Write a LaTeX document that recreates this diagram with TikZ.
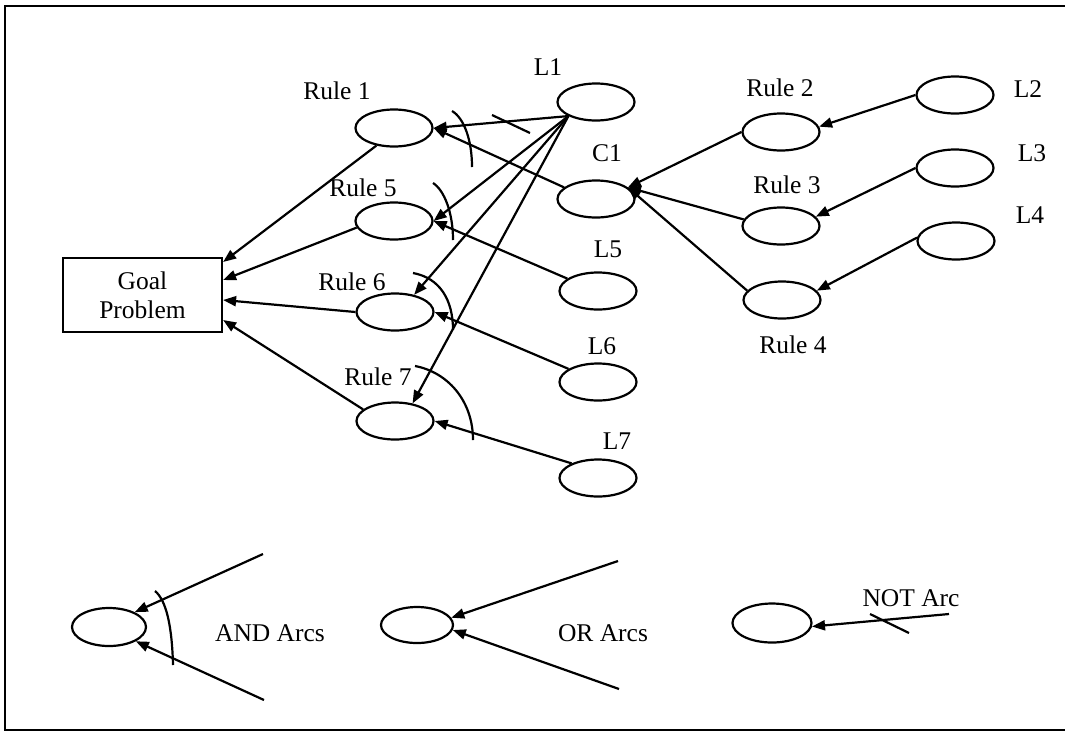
\documentclass[tikz,border=0pt]{standalone}
\usepackage{fontspec}
\setmainfont{Liberation Serif}
\usetikzlibrary{shapes.geometric,arrows.meta}
\begin{document}
\begin{tikzpicture}[x=1pt,y=-1pt,
  line width=2.2pt,
  every node/.style={font=\fontsize{25.5}{29}\selectfont},
  oval/.style={ellipse,draw,inner sep=0pt,minimum width=77pt,minimum height=37pt},
  goalbox/.style={rectangle,draw,inner sep=0pt,minimum width=159pt,minimum height=74pt,align=center},
  lbl/.style={inner sep=0pt},
  link/.style={-{Triangle[length=13pt,width=10pt]}},
  plain/.style={line width=2.2pt}]
\useasboundingbox (0,0) rectangle (1065,732);
% frame
\draw[line width=2.4pt] (1070,6) -- (5,6) -- (5,730) -- (1070,730);

% goal
\node[goalbox] (goal) at (142.5,295) {Goal\\Problem};

% rule nodes
\node[oval] (r1) at (394,128) {};
\node[oval] (r5) at (394,221) {};
\node[oval] (r6) at (395,312) {};
\node[oval] (r7) at (395,421) {};
\node[oval] (r2) at (781,132) {};
\node[oval] (r3) at (781,226) {};
\node[oval] (r4) at (782,300) {};
% leaves
\node[oval] (l1) at (596,102) {};
\node[oval] (c1) at (596,199) {};
\node[oval] (l5) at (598,291) {};
\node[oval] (l6) at (598,382) {};
\node[oval] (l7) at (598,478) {};
\node[oval] (l2) at (955,95) {};
\node[oval] (l3) at (955,168) {};
\node[oval] (l4) at (956,241) {};

% labels
\node[lbl] (tr1) at (337,91) {Rule 1};
\node[lbl] (tr5) at (363,188) {Rule 5};
\node[lbl] (tr6) at (352,282) {Rule 6};
\node[lbl] (tr7) at (378,377) {Rule 7};
\node[lbl] (tr2) at (780,88) {Rule 2};
\node[lbl] (tr3) at (787,185) {Rule 3};
\node[lbl] (tr4) at (793,345) {Rule 4};
\node[lbl] (tl1) at (548,67) {L1};
\node[lbl] (tc1) at (607,153) {C1};
\node[lbl] (tl5) at (608,249) {L5};
\node[lbl] (tl6) at (602,346) {L6};
\node[lbl] (tl7) at (617,441) {L7};
\node[lbl] (tl2) at (1028,89) {L2};
\node[lbl] (tl3) at (1032,153) {L3};
\node[lbl] (tl4) at (1030,215) {L4};

% rules into the goal
\draw[link] (r1.225) -- ([yshift=33pt]goal.east);
\draw[link] (r5.190) -- ([yshift=15pt]goal.east);
\draw[link] (r6.west) -- ([yshift=-5pt]goal.east);
\draw[link] (r7.160) -- ([yshift=-25pt]goal.east);

% L1 fans out
\draw[link] (l1.207) -- (r1.east);
\draw[link] (l1.207) -- (r5.east);
\draw[link] (l1.207) -- (r6.42);
\draw[link] (l1.207) -- (r7.45);
% other inputs
\draw[link] (c1.160) -- (r1.east);
\draw[link] (l5.158) -- (r5.east);
\draw[link] (l6.156) -- (r6.east);
\draw[link] (l7.151) -- (r7.east);

% C1 sub-tree
\draw[link] (r2.west) -- (c1.20);
\draw[link] (r3.170) -- (c1.20);
\draw[link] (r4.165) -- (c1.20);
\draw[link] (l2.west) -- (r2.8);
\draw[link] (l3.west) -- (r3.15);
\draw[link] (l4.175) -- (r4.15);

% AND arcs
\draw[plain] (452,111) .. controls (464,118) and (472,140) .. (472,167);
\draw[plain] (433,183) .. controls (444,190) and (453,212) .. (453,240);
\draw[plain] (413,273) .. controls (440,278) and (453,300) .. (453,330);
\draw[plain] (415,366) .. controls (447,372) and (473,400) .. (473,440);
% NOT mark
\draw[plain] (492,115) -- (530,133);

% legend: AND
\node[oval,minimum width=74pt,minimum height=38pt] (andN) at (109,627) {};
\coordinate (andA) at (263,554);
\coordinate (andB) at (264,700);
\draw[link] (andA) -- (andN.30);
\draw[link] (andB) -- (andN.-28);
\draw[plain] (155,591) .. controls (166,600) and (172,625) .. (173,665);
\node[lbl] (andT) at (270,633) {AND Arcs};

% legend: OR
\node[oval,minimum width=72pt,minimum height=36pt] (orN) at (417,625) {};
\coordinate (orA) at (618,561);
\coordinate (orB) at (619,689);
\draw[link] (orA) -- (orN.12);
\draw[link] (orB) -- (orN.-8);
\node[lbl] (orT) at (603,633) {OR Arcs};

% legend: NOT
\node[oval,minimum width=79pt,minimum height=39pt] (notN) at (772,623) {};
\coordinate (notA) at (949,614);
\draw[link] (notA) -- (notN.-5);
\draw[plain] (870,614) -- (909,633);
\node[lbl] (notT) at (911,598) {NOT Arc};
\end{tikzpicture}
\end{document}
